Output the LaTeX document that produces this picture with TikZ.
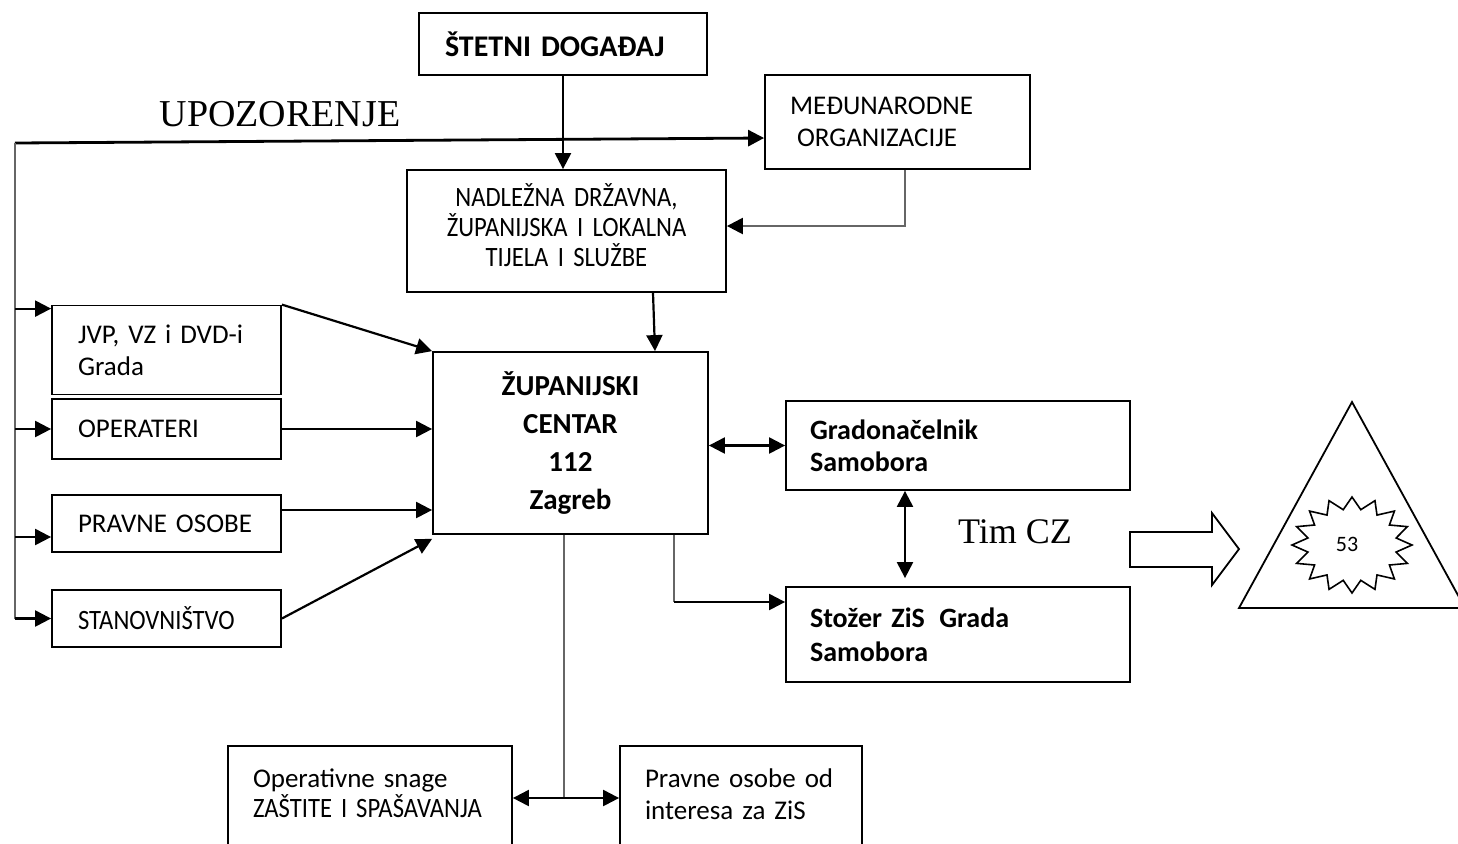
\documentclass[tikz,border=0pt]{standalone}
\usepackage{fontspec}
\setmainfont{Carlito}
\newfontfamily\serifont{Liberation Serif}
\newfontfamily\narrowfont{Carlito}[FakeStretch=0.88]
\usetikzlibrary{arrows.meta}
\tikzset{
  box/.style={draw, line width=0.9pt, inner ysep=2pt, font=\fontsize{13.5}{16}\selectfont},
  arr/.style={-{Triangle[length=8pt,width=8pt]}, line width=1.1pt},
  darr/.style={{Triangle[length=8pt,width=8pt]}-{Triangle[length=8pt,width=8pt]}, line width=1.1pt},
  feed/.style={line width=1.2pt, draw=black!60},
  graylink/.style={feed, -{Triangle[length=8pt,width=8pt,color=black]}},
}
\begin{document}
\begin{tikzpicture}[x=0.5pt, y=-0.5pt]
\useasboundingbox (0,0) rectangle (1458,843);
% top
\node[box, font=\bfseries\fontsize{15}{17}\selectfont, minimum width=144pt, minimum height=31pt, inner xsep=13pt, text width=118pt, align=left] (stetni) at (563,44) {ŠTETNI DOGAĐAJ};
\node[box, minimum width=132.5pt, minimum height=47pt, inner xsep=12.5pt, text width=107.5pt, align=left] (medj) at (897.5,122) {MEĐUNARODNE\\\hspace*{3.5pt}ORGANIZACIJE};
\node[box, font=\narrowfont\fontsize{14}{15}\selectfont, minimum width=159.5pt, minimum height=61pt, inner xsep=9.75pt, text width=140pt, align=center, text depth=36pt] (nadl) at (566.5,231) {NADLEŽNA DRŽAVNA,\\ŽUPANIJSKA I LOKALNA\\TIJELA I SLUŽBE};
\node[box, font=\bfseries\fontsize{14.5}{19}\selectfont, minimum width=137.5pt, minimum height=91pt, inner xsep=8.75pt, text width=120pt, align=center] (zup) at (570.5,443) {ŽUPANIJSKI\\CENTAR\\112\\Zagreb};
% left column
\node[box, minimum width=114.5pt, minimum height=44.5pt, inner xsep=13pt, text width=88.5pt, align=left] (jvp) at (166.5,350) {JVP, VZ i DVD-i\\Grada};
\node[box, minimum width=114.5pt, minimum height=30pt, inner xsep=13pt, text width=88.5pt, align=left] (oper) at (166.5,429) {OPERATERI};
\node[box, minimum width=114.5pt, minimum height=28.5pt, inner xsep=13pt, text width=88.5pt, align=left] (pravne) at (166.5,523.5) {PRAVNE OSOBE};
\node[box, font=\narrowfont\fontsize{14}{16}\selectfont, minimum width=114.5pt, minimum height=28.5pt, inner xsep=13pt, text width=88.5pt, align=left] (stan) at (166.5,618.5) {STANOVNIŠTVO};
% right column
\node[box, font=\bfseries\fontsize{14}{16}\selectfont, minimum width=172pt, minimum height=44.5pt, inner xsep=12pt, text width=148pt, align=left] (grad) at (958,445.5) {Gradonačelnik\\Samobora};
\node[box, font=\bfseries\fontsize{14}{17}\selectfont, minimum width=172pt, minimum height=47.5pt, inner xsep=12pt, text width=148pt, align=left] (stozer) at (958,634.5) {Stožer ZiS\hspace{2.5pt} Grada\\Samobora};
% bottom
\node[box, font=\fontsize{13.5}{15}\selectfont, minimum width=142pt, minimum height=52pt, inner xsep=12.5pt, text width=117pt, align=left, text depth=20pt] (opsn) at (370,798) {Operativne snage\\{\narrowfont\fontsize{14}{15}\selectfont ZAŠTITE I SPAŠAVANJA}};
\node[box, minimum width=121pt, minimum height=52pt, inner xsep=12.5pt, text width=96pt, align=left, text depth=20pt] (pravzis) at (741,798) {Pravne osobe od\\interesa za ZiS};
% free labels
\node[font=\serifont\fontsize{19}{22}\selectfont] (upoz) at (280,114) {UPOZORENJE};
\node[font=\serifont\fontsize{18}{21}\selectfont] (timcz) at (1015,532) {Tim CZ};
% warning bus
\coordinate (bus) at (15,143);
\coordinate (busend) at (15,618.5);
\draw[arr, line width=1.4pt] (bus) -- ([yshift=-8pt]medj.west);
\draw[feed] (bus) -- (busend);
\draw[arr] (busend) -- (stan.west);
\coordinate (jin) at ([yshift=-2pt]jvp.north west);
\draw[arr] (bus |- jin) -- (jin);
\draw[arr] (bus |- oper.west) -- (oper.west);
\coordinate (pin) at ([yshift=-6.75pt]pravne.west);
\draw[arr] (bus |- pin) -- (pin);
% into the centre
\draw[arr] (jvp.north east) -- (zup.north west);
\draw[arr] (oper.east) -- (oper.east -| zup.west);
\coordinate (pout) at ([yshift=6.75pt]pravne.east);
\draw[arr] (pout) -- (pout -| zup.west);
\draw[arr] (stan.east) -- ([yshift=-2pt]zup.south west);
\draw[arr] (stetni.south) -- (stetni.south |- nadl.north);
\draw[graylink] ([xshift=3.75pt]medj.south) |- ([yshift=2.5pt]nadl.east);
\draw[arr] ([xshift=43.25pt]nadl.south) -- ([xshift=42.25pt]zup.north);
% out of the centre
\draw[darr] (grad.west -| zup.east) -- (grad.west);
\draw[darr] ([xshift=-26.5pt]grad.south) -- ([xshift=-26.5pt,yshift=4pt]stozer.north);
\coordinate (zs) at ([xshift=51.75pt]zup.south);
\coordinate (sin) at ([yshift=16.25pt]stozer.west);
\draw[feed] (zs) -- (zs |- sin);
\draw[arr] (zs |- sin) -- (sin);
\coordinate (zb) at ([xshift=-3.25pt]zup.south);
\draw[feed] (zb) -- (zb |- opsn.east);
\draw[darr] (opsn.east) -- (pravzis.west);
% block arrow, triangle, star
\draw[line width=0.9pt] (1130,532) -- (1212,532) -- (1212,513) -- (1239,549) -- (1212,585) -- (1212,567) -- (1130,567) -- cycle;
\draw[line width=0.9pt] (1352,402) -- (1239,608) -- (1465,608) -- cycle;
\draw[line width=0.8pt] (1412,545) \foreach \k in {0,...,15} { -- ({1352+45*cos(\k*22.5+11.25)},{545+36*sin(\k*22.5+11.25)}) -- ({1352+60*cos(\k*22.5+22.5)},{545+48*sin(\k*22.5+22.5)}) } -- cycle;
\node[font=\fontsize{11}{13}\selectfont] (num) at (1347,544) {53};
\end{tikzpicture}
\end{document}
